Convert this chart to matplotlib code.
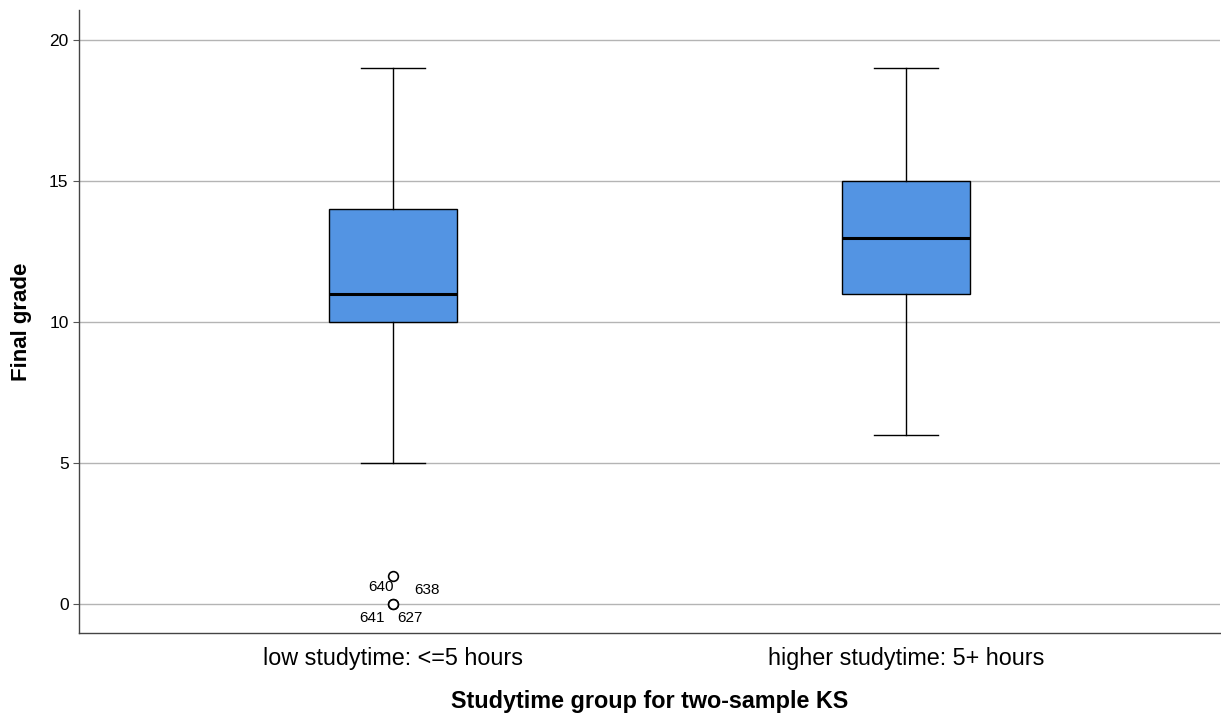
import numpy as np
from matplotlib import pyplot as plt

plt.rcParams['font.family'] = ['Liberation Sans', 'DejaVu Sans']

groups = ['low studytime: <=5 hours', 'higher studytime: 5+ hours']
whislo = [5, 6]
q1 = [10, 11]
med = [11, 13]
q3 = [14, 15]
whishi = [19, 19]
fliers = [[1, 0, 0], []]
# case number, value, horizontal alignment
outlier_ids = [('640', 1, 'right'), ('638', 1, 'left'), ('641', 0, 'right'), ('627', 0, 'left')]

stats = []
for i in range(len(groups)):
    stats.append(dict(whislo=whislo[i], q1=q1[i], med=med[i], q3=q3[i],
                      whishi=whishi[i], fliers=fliers[i], label=groups[i]))

fig = plt.figure(figsize=(12.21, 7.19), dpi=100)
ax = fig.add_axes([0.0647, 0.119, 0.9345, 0.867])

ax.set_axisbelow(True)
ax.yaxis.grid(True, color='#b4b4b4', linewidth=1.0)

ax.bxp(stats, positions=[1, 2], widths=0.25, patch_artist=True,
       boxprops=dict(facecolor='#5394e3', edgecolor='black', linewidth=1.0),
       medianprops=dict(color='black', linewidth=2.2),
       whiskerprops=dict(color='black', linewidth=1.0),
       capprops=dict(color='black', linewidth=1.0),
       capwidths=0.125,
       flierprops=dict(marker='o', markerfacecolor='white', markeredgecolor='black',
                       markersize=7, markeredgewidth=1.2))

# outlier case labels
offsets = {'640': (0.002, -0.4), '638': (0.041, -0.5),
           '641': (-0.016, -0.5), '627': (0.008, -0.5)}
for lab, val, ha in outlier_ids:
    dx, dy = offsets[lab]
    ax.text(1 + dx, val + dy, lab, fontsize=11, ha=ha, va='center')

ax.set_xlim(0.388, 2.612)
ax.set_ylim(-1.03, 21.07)
ax.set_yticks([0, 5, 10, 15, 20])
ax.tick_params(axis='y', labelsize=12.5, length=4, width=0.8, color='#555555')
ax.tick_params(axis='x', labelsize=16.8, length=0, pad=10)

for s in ['top', 'right']:
    ax.spines[s].set_visible(False)
for s in ['left', 'bottom']:
    ax.spines[s].set_color('#444444')
    ax.spines[s].set_linewidth(1.0)

ax.set_xlabel('Studytime group for two-sample KS', fontsize=16.8, fontweight='bold', labelpad=14)
ax.set_ylabel('Final grade', fontsize=16, fontweight='bold', labelpad=12)

fig.savefig('out.png', dpi=100)
